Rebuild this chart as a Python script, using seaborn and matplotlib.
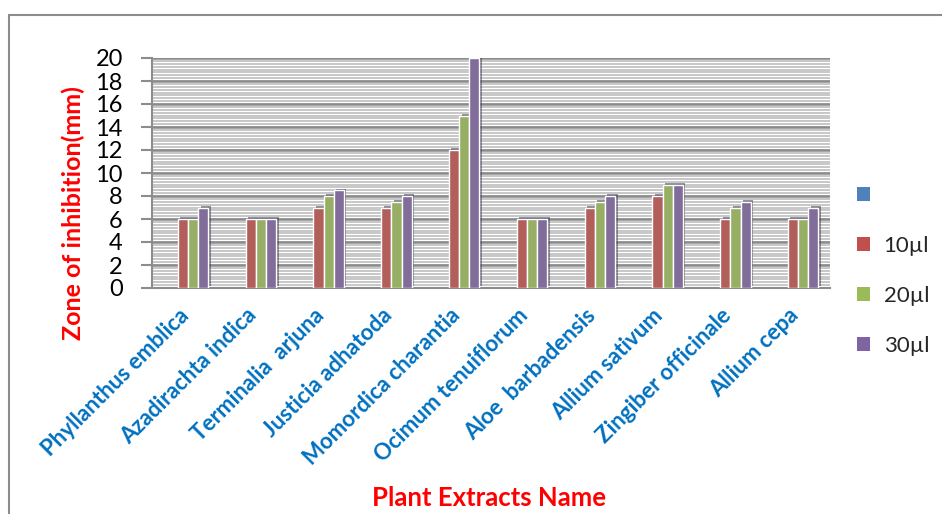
import numpy as np
import pandas as pd
import matplotlib
matplotlib.use("Agg")
import matplotlib.pyplot as plt
import matplotlib.patches as mpatches
import matplotlib.patheffects as pe
import matplotlib.transforms as mtransforms
import seaborn as sns

plants = ["Phyllanthus emblica", "Azadirachta indica", "Terminalia  arjuna",
          "Justicia adhatoda", "Momordica charantia", "Ocimum tenuiflorum",
          "Aloe  barbadensis", "Allium sativum", "Zingiber officinale", "Allium cepa"]
series_names = ["", "10µl", "20µl", "30µl"]
blank = [np.nan] * 10
dose10 = [6, 6, 7, 7, 12, 6, 7, 8, 6, 6]
dose20 = [6, 6, 8, 7.5, 15, 6, 7.5, 9, 7, 6]
dose30 = [7, 6, 8.5, 8, 20, 6, 8, 9, 7.5, 7]
y_ticks = [0, 2, 4, 6, 8, 10, 12, 14, 16, 18, 20]
colors = ["#4F81BD", "#C0504D", "#9BBB59", "#8064A2"]

rows = []
for name, vals in zip(series_names, [blank, dose10, dose20, dose30]):
    for p, v in zip(plants, vals):
        rows.append({"plant": p, "dose": name, "value": v})
df = pd.DataFrame(rows)

sns.set_theme(style="white")
plt.rcParams["font.family"] = ["Lato", "DejaVu Sans"]

fig = plt.figure(figsize=(9.42, 5.14), dpi=100)
ax = fig.add_axes([152/942, 1 - 288/514, 678/942, 230/514])

# outer chart border
fig.patches.append(mpatches.Rectangle((9/942, -0.1), 1.2, 1 - 15/514 + 0.1,
                                      transform=fig.transFigure, fill=False,
                                      edgecolor="#8c8c8c", linewidth=1.5, zorder=0))

sns.barplot(data=df, x="plant", y="value", hue="dose", hue_order=series_names,
            order=plants, palette=colors, width=0.6, edgecolor="white",
            linewidth=1.0, legend=False, ax=ax, errorbar=None, zorder=3)

for patch in ax.patches:
    patch.set_path_effects([pe.SimplePatchShadow(offset=(1.8, 1.2),
                                                 shadow_rgbFace="#3a3a55", alpha=0.55),
                            pe.Normal()])

ax.set_ylim(0, 20)
ax.set_xlim(-0.53, 9.47)
ax.set_yticks(y_ticks)
ax.set_yticklabels([str(t) for t in y_ticks], fontsize=17, color="black")
# striped back wall
for yv in np.arange(0.25, 20.01, 0.25):
    ax.axhline(yv, color="#bdbdbd", linewidth=1.2, zorder=1)
for yv in y_ticks[1:]:
    ax.axhline(yv, color="#8a8a8a", linewidth=1.8, zorder=2)

ax.tick_params(axis="y", direction="out", length=8, width=1.5, color="#8c8c8c",
               left=True, pad=13)
ax.tick_params(axis="x", length=0, pad=12)
ax.set_xticks(range(len(plants)))
ax.set_xticklabels(plants, rotation=45, ha="right", rotation_mode="anchor",
                   fontsize=16, fontweight="bold", color="#0070C0")
shift = mtransforms.ScaledTranslation(-10/100, 0, fig.dpi_scale_trans)
for lbl in ax.get_xticklabels():
    lbl.set_transform(lbl.get_transform() + shift)

for s in ["top", "right"]:
    ax.spines[s].set_visible(False)
ax.spines["left"].set_color("#8c8c8c")
ax.spines["left"].set_linewidth(1.5)
ax.spines["bottom"].set_color("#8c8c8c")
ax.spines["bottom"].set_linewidth(1.5)

ax.set_xlabel("")
ax.set_ylabel("")
fig.text(489/942, 1 - 498/514, "Plant Extracts Name", color="#FF0000",
         fontsize=18.5, fontweight="bold", ha="center", va="center")
fig.text(73/942, 1 - 213/514, "Zone of inhibition(mm)", color="#FF0000",
         fontsize=18, fontweight="bold", ha="center", va="center", rotation=90)

handles = [mpatches.Rectangle((0, 0), 1, 1, facecolor=c, edgecolor="none") for c in colors]
leg = fig.legend(handles, series_names, loc="upper left",
                 bbox_to_anchor=(837/942, 1 - 166/514), frameon=False,
                 fontsize=16, handlelength=0.6, handleheight=0.6,
                 labelspacing=1.35, handletextpad=0.6)

fig.savefig("out.png", dpi=100)
